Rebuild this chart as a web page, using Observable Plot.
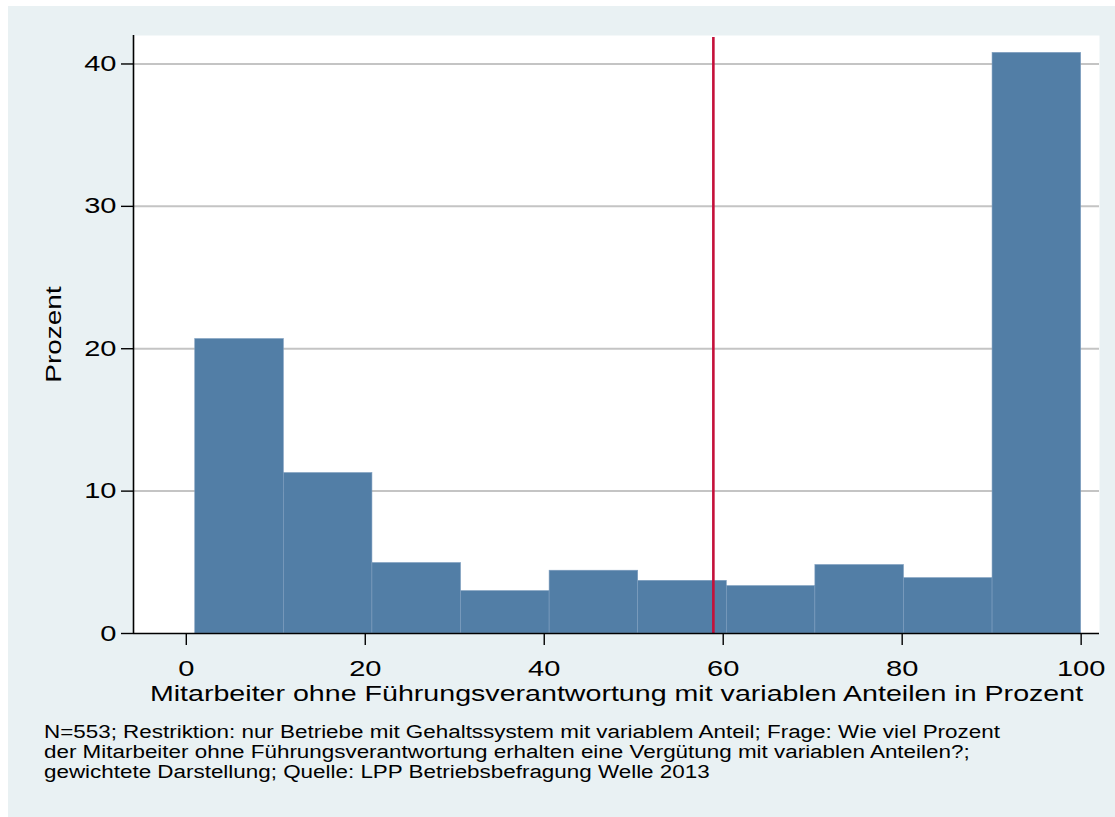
<!DOCTYPE html>
<html>
<head>
<meta charset="utf-8">
<script src="https://cdn.jsdelivr.net/npm/d3@7"></script>
<script src="https://cdn.jsdelivr.net/npm/@observablehq/plot@0.6"></script>
<style>
  html, body { margin: 0; padding: 0; background: #ffffff; }
  #page { position: relative; width: 1115px; height: 817px; overflow: hidden; }
  #bg { position: absolute; left: 8px; top: 6px; width: 1107px; height: 811px; background: #e9f1f3; }
  #chart { position: absolute; left: 0; top: 0; }
  #caption { position: absolute; left: 44px; top: 722px; font-family: "Liberation Sans", Arial, sans-serif;
             font-size: 18px; line-height: 20px; color: #000; white-space: nowrap;
             transform: scaleX(1.245); transform-origin: left top; }
</style>
</head>
<body>
<div id="page">
  <div id="bg"></div>
  <div id="chart"></div>
  <div id="caption">N=553; Restriktion: nur Betriebe mit Gehaltssystem mit variablem Anteil; Frage: Wie viel Prozent<br>der Mitarbeiter ohne Führungsverantwortung erhalten eine Vergütung mit variablen Anteilen?;<br>gewichtete Darstellung; Quelle: LPP Betriebsbefragung Welle 2013</div>
</div>
<script>
// ---- data ----
const binStart = [1, 10.9, 20.8, 30.7, 40.6, 50.5, 60.4, 70.3, 80.2, 90.1];
const binEnd   = [10.9, 20.8, 30.7, 40.6, 50.5, 60.4, 70.3, 80.2, 90.1, 100];
const percent  = [20.68, 11.27, 4.95, 2.98, 4.41, 3.70, 3.33, 4.81, 3.89, 40.78];
const meanValue = 58.9;
const xTicks = [0, 20, 40, 60, 80, 100];
const yTicks = [0, 10, 20, 30, 40];
const gridTicks = [10, 20, 30, 40];
const xTitle = "Mitarbeiter ohne Führungsverantwortung mit variablen Anteilen in Prozent";
const yTitle = "Prozent";

const bins = binStart.map((s, i) => ({x1: s, x2: binEnd[i], y: percent[i]}));
const xDomain = [-5.9, 102.05];
const yDomain = [0, 42];

const chart = Plot.plot({
  width: 1115,
  height: 710,
  marginLeft: 133,
  marginRight: 16,
  marginTop: 35,
  marginBottom: 77,
  style: {fontFamily: "'Liberation Sans', Arial, sans-serif", fontSize: "22px", background: "transparent", color: "#000"},
  x: {domain: xDomain},
  y: {domain: yDomain},
  marks: [
    Plot.frame({fill: "white", stroke: null}),
    Plot.ruleY(gridTicks, {stroke: "#c4c4c4", strokeWidth: 2}),
    Plot.rectY(bins, {x1: "x1", x2: "x2", y: "y", fill: "#527ea6", stroke: "#7d9dbe", strokeWidth: 0.6}),
    Plot.ruleX([meanValue], {y1: 0, y2: yDomain[1], stroke: "#c5103a", strokeWidth: 2.6, insetBottom: -2}),
    Plot.ruleY([0], {stroke: "black", strokeWidth: 1.6}),
    Plot.ruleX([xDomain[0]], {stroke: "black", strokeWidth: 1.6}),
    Plot.axisX({ticks: xTicks, tickSize: 12, tickPadding: 15, tickFormat: d => String(d), label: null, fontSize: 22, strokeWidth: 1.4}),
    Plot.axisY({ticks: yTicks, tickSize: 12, tickPadding: 5, tickFormat: d => String(d), label: null, fontSize: 22, strokeWidth: 1.4}),
    Plot.text([xTitle], {frameAnchor: "bottom", dy: 60, text: d => d, fontSize: 22, lineAnchor: "middle", textAnchor: "middle"}),
    Plot.text([yTitle], {frameAnchor: "left", dx: -80, text: d => d, fontSize: 22, rotate: -90, lineAnchor: "middle", textAnchor: "middle"})
  ]
});
document.getElementById("chart").appendChild(chart);

// widen glyphs horizontally to match the wide rendering of the original
chart.querySelectorAll("text").forEach(el => {
  const t = el.textContent;
  let f = 1.32;
  if (t === xTitle) f = 1.30;
  else if (t === yTitle) f = 1.27;
  const L = el.getComputedTextLength();
  if (L > 0) {
    el.setAttribute("textLength", (L * f).toFixed(1));
    el.setAttribute("lengthAdjust", "spacingAndGlyphs");
  }
});
</script>
</body>
</html>
